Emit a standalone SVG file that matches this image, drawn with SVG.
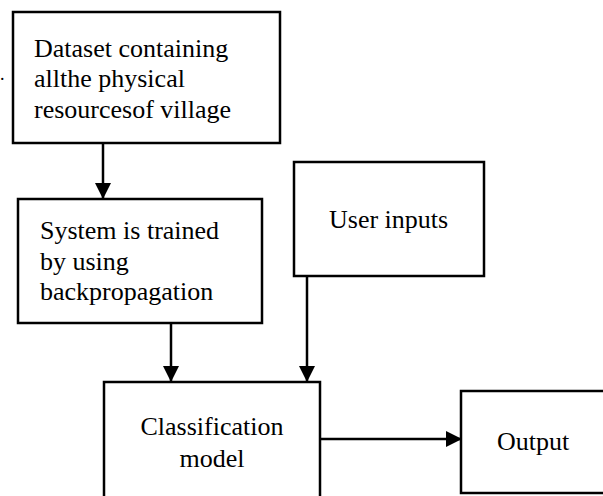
<svg xmlns="http://www.w3.org/2000/svg" width="603" height="496" viewBox="0 0 603 496">
<style>
.box{fill:#fff;stroke:#000;stroke-width:2.5}
.t{font-family:"Liberation Serif","Times New Roman",serif;font-size:26px;fill:#000}
.c{text-anchor:middle}
.ln{stroke:#000;stroke-width:2.5;fill:none}
</style>
<defs>
<marker id="ah" markerWidth="10" markerHeight="10" refX="9" refY="5" orient="auto" markerUnits="userSpaceOnUse" viewBox="0 0 10 10">
<path d="M0,0 L10,5 L0,10 z" fill="#000"/>
</marker>
<marker id="ahb" markerWidth="16" markerHeight="16" refX="16" refY="8" orient="auto" markerUnits="userSpaceOnUse" viewBox="0 0 16 16">
<path d="M0,0 L16,8 L0,16 z" fill="#000"/>
</marker>
</defs>
<text class="t" x="0" y="80" style="font-size:18px">.</text>
<g id="connectors">
<line class="ln" x1="103" y1="143" x2="103" y2="199" marker-end="url(#ahb)"/>
<line class="ln" x1="171" y1="323" x2="171" y2="382" marker-end="url(#ahb)"/>
<line class="ln" x1="307" y1="276" x2="307" y2="382" marker-end="url(#ahb)"/>
<line class="ln" x1="320" y1="439" x2="462" y2="439" marker-end="url(#ahb)"/>
</g>
<g id="dataset">
<rect class="box" x="13" y="12" width="267" height="131"/>
<text class="t" x="34" y="57">Dataset containing</text>
<text class="t" x="34" y="87">allthe physical</text>
<text class="t" x="34" y="118">resourcesof village</text>
</g>
<g id="system">
<rect class="box" x="18" y="199" width="244" height="124"/>
<text class="t" x="40" y="239">System is trained</text>
<text class="t" x="40" y="270">by using</text>
<text class="t" x="40" y="300">backpropagation</text>
</g>
<g id="user">
<rect class="box" x="294" y="162" width="190" height="114"/>
<text class="t" x="329" y="228">User inputs</text>
</g>
<g id="classification">
<rect class="box" x="104" y="382" width="216" height="130"/>
<text class="t c" x="212" y="435">Classification</text>
<text class="t c" x="212" y="467">model</text>
</g>
<g id="output">
<rect class="box" x="461" y="391" width="160" height="102"/>
<text class="t" x="497" y="450">Output</text>
</g>
</svg>
